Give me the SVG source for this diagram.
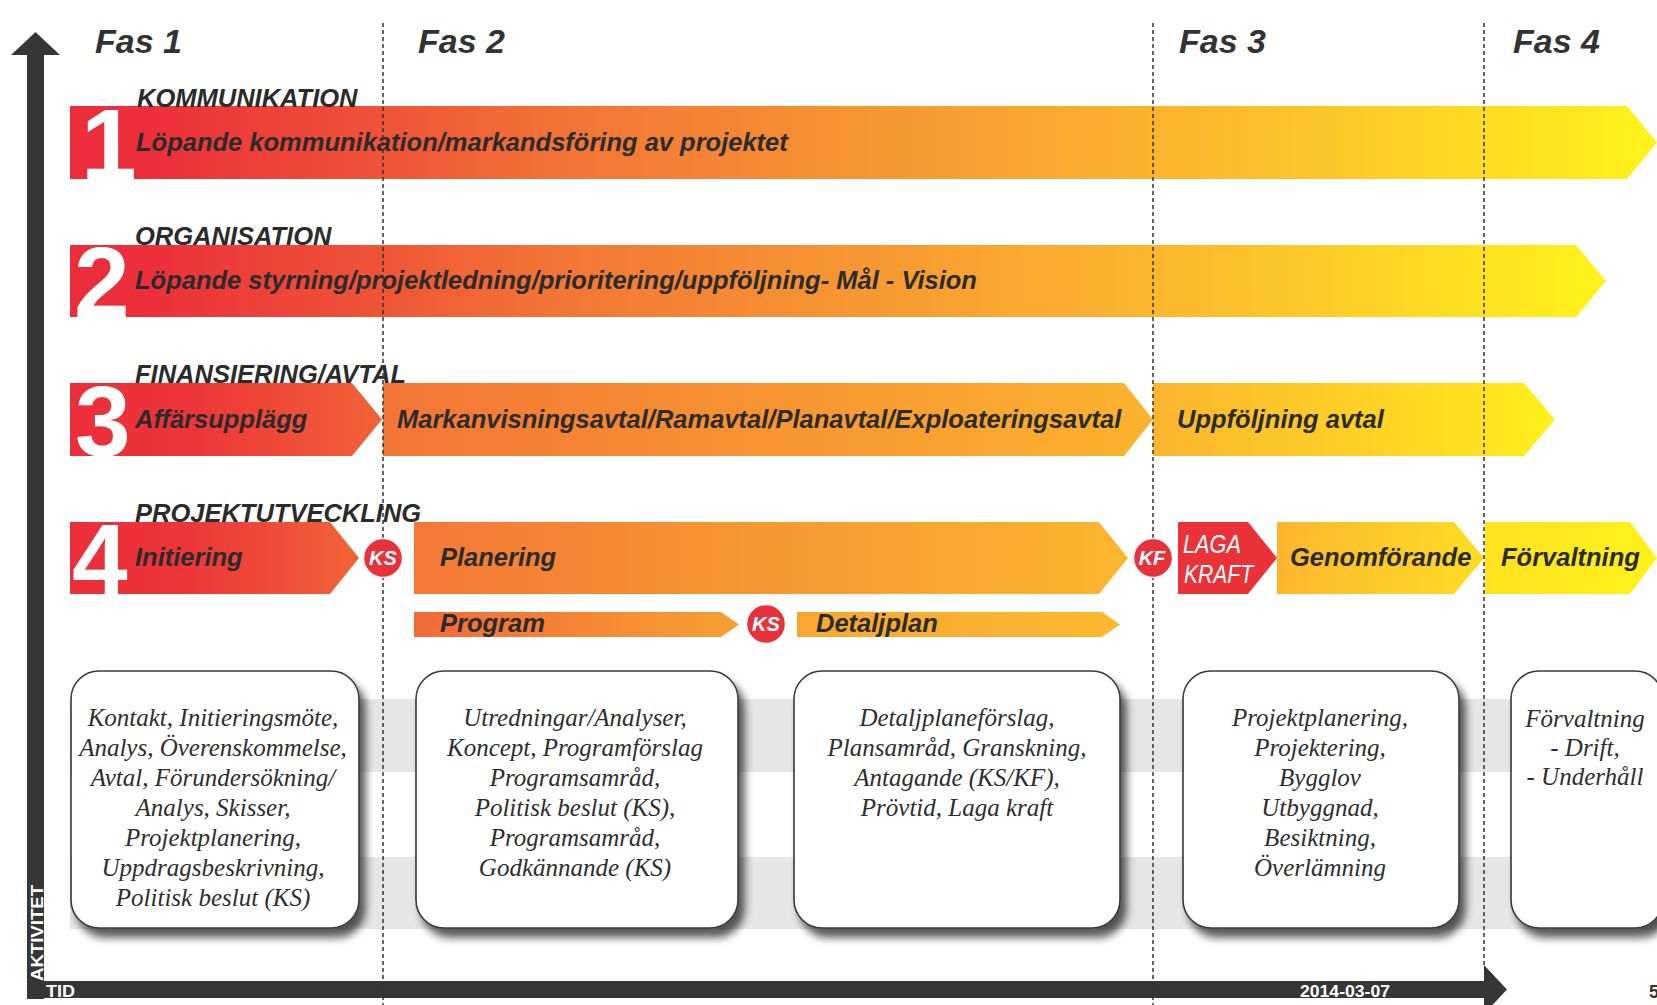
<svg xmlns="http://www.w3.org/2000/svg" width="1657" height="1005" viewBox="0 0 1657 1005">
<defs>
<style>
.head{font-family:"Liberation Sans",Arial,sans-serif;font-weight:bold;font-style:italic;font-size:34px;fill:#333333}
.lbl{font-family:"Liberation Sans",Arial,sans-serif;font-weight:bold;font-style:italic;font-size:25.5px;fill:#2b2b2b}
.dig{font-family:"Liberation Sans",Arial,sans-serif;font-weight:bold;font-size:100px;fill:#ffffff}
.ks{font-family:"Liberation Sans",Arial,sans-serif;font-weight:bold;font-style:italic;font-size:20px;fill:#ffffff}
.wt{font-family:"Liberation Sans",Arial,sans-serif;font-style:italic;font-size:25px;fill:#ffffff}
.ax{font-family:"Liberation Sans",Arial,sans-serif;font-weight:bold;font-size:17px;fill:#ffffff}
.box{fill:#ffffff;stroke:#3a3a3a;stroke-width:1.6}
.bt{font-family:"Liberation Serif","Times New Roman",serif;font-style:italic;font-size:25px;fill:#2e2e2e;text-anchor:middle}
.dash{stroke:#333333;stroke-width:1.5;stroke-dasharray:4 3;fill:none}
.circ{fill:#e8313a;stroke:#ffffff;stroke-width:1.5}
.band{fill:#e6e6e7}
.axis{fill:#363636}
</style>
<linearGradient id="gFull" x1="70" y1="0" x2="1657" y2="0" gradientUnits="userSpaceOnUse">
<stop offset="0" stop-color="#ec2d3b"/><stop offset="0.05" stop-color="#ec2f3a"/><stop offset="0.2" stop-color="#ef5437"/><stop offset="0.32" stop-color="#f27635"/><stop offset="0.65" stop-color="#faae2f"/><stop offset="0.76" stop-color="#fcc02b"/><stop offset="1" stop-color="#fff31a"/>
</linearGradient>
<linearGradient id="gFull2" x1="70" y1="0" x2="1606" y2="0" gradientUnits="userSpaceOnUse">
<stop offset="0" stop-color="#ec2d3b"/><stop offset="0.05" stop-color="#ec2f3a"/><stop offset="0.2" stop-color="#ef5437"/><stop offset="0.32" stop-color="#f27635"/><stop offset="0.65" stop-color="#faae2f"/><stop offset="0.76" stop-color="#fcc02b"/><stop offset="1" stop-color="#fff31a"/>
</linearGradient>
<linearGradient id="gRed" x1="0" y1="0" x2="1" y2="0">
<stop offset="0" stop-color="#ec2e3a"/><stop offset="0.4" stop-color="#ed3539"/><stop offset="1" stop-color="#f16437"/>
</linearGradient>
<linearGradient id="g3b" x1="0" y1="0" x2="1" y2="0">
<stop offset="0" stop-color="#f37535"/><stop offset="1" stop-color="#fbb32e"/>
</linearGradient>
<linearGradient id="g3c" x1="0" y1="0" x2="1" y2="0">
<stop offset="0" stop-color="#fbb52e"/><stop offset="0.8" stop-color="#ffe020"/><stop offset="1" stop-color="#fff21a"/>
</linearGradient>
<linearGradient id="gPlan" x1="0" y1="0" x2="1" y2="0">
<stop offset="0" stop-color="#f37835"/><stop offset="1" stop-color="#fbb72e"/>
</linearGradient>
<linearGradient id="gGen" x1="0" y1="0" x2="1" y2="0">
<stop offset="0" stop-color="#fcb62e"/><stop offset="1" stop-color="#ffdd23"/>
</linearGradient>
<linearGradient id="gForv" x1="0" y1="0" x2="1" y2="0">
<stop offset="0" stop-color="#ffe220"/><stop offset="1" stop-color="#fff21a"/>
</linearGradient>
<linearGradient id="gProg" x1="0" y1="0" x2="1" y2="0">
<stop offset="0" stop-color="#f26a36"/><stop offset="1" stop-color="#f7a032"/>
</linearGradient>
<linearGradient id="gDet" x1="0" y1="0" x2="1" y2="0">
<stop offset="0" stop-color="#f9a631"/><stop offset="1" stop-color="#fbb92e"/>
</linearGradient>
<filter id="shadow" x="-10%" y="-10%" width="130%" height="130%">
<feGaussianBlur in="SourceAlpha" stdDeviation="4"/>
<feOffset dx="6" dy="9" result="o"/>
<feComponentTransfer><feFuncA type="linear" slope="0.65"/></feComponentTransfer>
<feMerge><feMergeNode/><feMergeNode in="SourceGraphic"/></feMerge>
</filter>
<clipPath id="c1"><rect x="70" y="106" width="80" height="73"/></clipPath>
<clipPath id="c2"><rect x="70" y="245" width="80" height="72"/></clipPath>
<clipPath id="c3"><rect x="70" y="383" width="80" height="73"/></clipPath>
<clipPath id="c4"><rect x="70" y="522" width="80" height="72"/></clipPath>
</defs>
<rect x="0" y="0" width="1657" height="1005" fill="#ffffff"/>

<g id="bands">
<rect class="band" x="70" y="699" width="1590" height="73"/>
<rect class="band" x="70" y="857" width="1590" height="72"/>
</g>

<g id="axes">
<rect class="axis" x="27" y="52" width="17" height="947"/>
<polygon class="axis" points="11,55 35.5,32 60,55"/>
<rect class="axis" x="27" y="981" width="1459" height="17"/>
<polygon class="axis" points="1484,965 1507,989.5 1484,1014"/>
<text class="ax" transform="translate(43,981) rotate(-90)" font-size="19" textLength="96" lengthAdjust="spacingAndGlyphs">AKTIVITET</text>
<text class="ax" x="46" y="997" textLength="29" lengthAdjust="spacingAndGlyphs">TID</text>
<text class="ax" x="1300" y="997" font-size="16" textLength="90" lengthAdjust="spacingAndGlyphs">2014-03-07</text>
<text x="1649" y="998" style="font-family:'Liberation Sans',Arial,sans-serif;font-weight:bold;font-size:18px;fill:#333">5</text>
</g>

<g id="phases">
<text class="head" x="95" y="53">Fas 1</text>
<text class="head" x="418" y="53">Fas 2</text>
<text class="head" x="1179" y="53">Fas 3</text>
<text class="head" x="1513" y="53">Fas 4</text>
</g>

<g id="row1">
<polygon points="70,106 1627,106 1657,142.5 1627,179 70,179" fill="url(#gFull)"/>
<rect x="70" y="106" width="40" height="73" fill="#ec2d3b"/>
<text class="dig" x="81" y="179" clip-path="url(#c1)">1</text>
<text class="lbl" x="137" y="107">KOMMUNIKATION</text>
<text class="lbl" x="136" y="151">Löpande kommunikation/markandsföring av projektet</text>
</g>

<g id="row2">
<polygon points="70,245 1576,245 1606,281 1576,317 70,317" fill="url(#gFull2)"/>
<rect x="70" y="245" width="50" height="72" fill="#ec2d3b"/>
<text class="dig" x="74" y="317" clip-path="url(#c2)">2</text>
<text class="lbl" x="135" y="245">ORGANISATION</text>
<text class="lbl" x="135" y="289">Löpande styrning/projektledning/prioritering/uppföljning- Mål - Vision</text>
</g>

<g id="row3">
<polygon points="70,383 352,383 382,419.5 352,456 70,456" fill="url(#gRed)"/>
<text class="dig" x="75" y="456" clip-path="url(#c3)">3</text>
<polygon points="383,383 1124,383 1153,419.5 1124,456 383,456" fill="url(#g3b)"/>
<polygon points="1153,383 1524,383 1555,419.5 1524,456 1153,456" fill="url(#g3c)"/>
<text class="lbl" x="135" y="383">FINANSIERING/AVTAL</text>
<text class="lbl" x="135" y="428">Affärsupplägg</text>
<text class="lbl" x="397" y="428">Markanvisningsavtal/Ramavtal/Planavtal/Exploateringsavtal</text>
<text class="lbl" x="1177" y="428">Uppföljning avtal</text>
</g>

<g id="row4">
<polygon points="70,522 330,522 359,558 330,594 70,594" fill="url(#gRed)"/>
<text class="dig" x="72" y="594" clip-path="url(#c4)">4</text>
<polygon points="414,522 1099,522 1128,558 1099,594 414,594" fill="url(#gPlan)"/>
<polygon points="1178,522 1248,522 1277,558 1248,594 1178,594" fill="#ec3239"/>
<polygon points="1277,522 1454,522 1484,558 1454,594 1277,594" fill="url(#gGen)"/>
<polygon points="1485,522 1630,522 1657,558 1630,594 1485,594" fill="url(#gForv)"/>
<text class="lbl" x="135" y="522">PROJEKTUTVECKLING</text>
<text class="lbl" x="135" y="566">Initiering</text>
<text class="lbl" x="440" y="566">Planering</text>
<text class="wt" x="1183" y="553" textLength="58" lengthAdjust="spacingAndGlyphs">LAGA</text>
<text class="wt" x="1184" y="583" textLength="69" lengthAdjust="spacingAndGlyphs">KRAFT</text>
<text class="lbl" x="1290" y="566">Genomförande</text>
<text class="lbl" x="1501" y="566">Förvaltning</text>
</g>

<g id="subrow">
<polygon points="414,612 721,612 739,624.5 721,637 414,637" fill="url(#gProg)"/>
<polygon points="797,612 1102,612 1120,624.5 1102,637 797,637" fill="url(#gDet)"/>
<text class="lbl" x="440" y="632">Program</text>
<text class="lbl" x="816" y="632">Detaljplan</text>
</g>

<g id="connectors">
<line class="dash" x1="383" y1="23" x2="383" y2="1005"/>
<line class="dash" x1="1153" y1="23" x2="1153" y2="1005"/>
<line class="dash" x1="1484" y1="23" x2="1484" y2="965"/>
</g>

<g id="milestones">
<g id="ks1"><circle class="circ" cx="383" cy="558" r="19.5"/><text class="ks" x="383" y="565" text-anchor="middle">KS</text></g>
<g id="kf"><circle class="circ" cx="1153" cy="558" r="19.5"/><text class="ks" x="1152" y="565" text-anchor="middle">KF</text></g>
<g id="ks2"><circle class="circ" cx="766" cy="624" r="19.5"/><text class="ks" x="766" y="631" text-anchor="middle">KS</text></g>
</g>

<g id="box1">
<rect class="box" x="71" y="671" width="288" height="257" rx="28" filter="url(#shadow)"/>
<text class="bt" x="213" y="726">Kontakt, Initieringsmöte,</text>
<text class="bt" x="213" y="756">Analys, Överenskommelse,</text>
<text class="bt" x="213" y="786">Avtal, Förundersökning/</text>
<text class="bt" x="213" y="816">Analys, Skisser,</text>
<text class="bt" x="213" y="846">Projektplanering,</text>
<text class="bt" x="213" y="876">Uppdragsbeskrivning,</text>
<text class="bt" x="213" y="906">Politisk beslut (KS)</text>
</g>

<g id="box2">
<rect class="box" x="416" y="671" width="322" height="257" rx="28" filter="url(#shadow)"/>
<text class="bt" x="575" y="726">Utredningar/Analyser,</text>
<text class="bt" x="575" y="756">Koncept, Programförslag</text>
<text class="bt" x="575" y="786">Programsamråd,</text>
<text class="bt" x="575" y="816">Politisk beslut (KS),</text>
<text class="bt" x="575" y="846">Programsamråd,</text>
<text class="bt" x="575" y="876">Godkännande (KS)</text>
</g>

<g id="box3">
<rect class="box" x="794" y="671" width="326" height="257" rx="28" filter="url(#shadow)"/>
<text class="bt" x="957" y="726">Detaljplaneförslag,</text>
<text class="bt" x="957" y="756">Plansamråd, Granskning,</text>
<text class="bt" x="957" y="786">Antagande (KS/KF),</text>
<text class="bt" x="957" y="816">Prövtid, Laga kraft</text>
</g>

<g id="box4">
<rect class="box" x="1183" y="671" width="276" height="257" rx="28" filter="url(#shadow)"/>
<text class="bt" x="1320" y="726">Projektplanering,</text>
<text class="bt" x="1320" y="756">Projektering,</text>
<text class="bt" x="1320" y="786">Bygglov</text>
<text class="bt" x="1320" y="816">Utbyggnad,</text>
<text class="bt" x="1320" y="846">Besiktning,</text>
<text class="bt" x="1320" y="876">Överlämning</text>
</g>

<g id="box5">
<rect class="box" x="1511" y="671" width="152" height="257" rx="28" filter="url(#shadow)"/>
<text class="bt" x="1585" y="727">Förvaltning</text>
<text class="bt" x="1585" y="756">- Drift,</text>
<text class="bt" x="1585" y="785">- Underhåll</text>
</g>
</svg>
